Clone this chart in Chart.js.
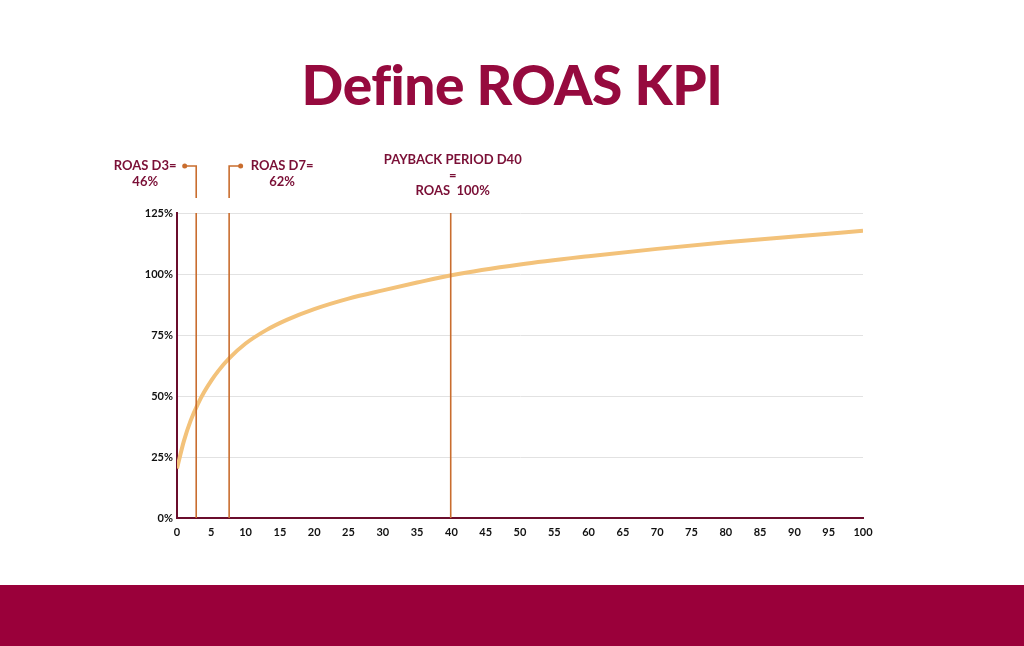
<!DOCTYPE html>
<html>
<head>
<meta charset="utf-8">
<script src="https://cdn.jsdelivr.net/npm/chart.js@4.4.0/dist/chart.umd.min.js"></script>
<style>
  html, body { margin: 0; padding: 0; background: #fff; }
  body { width: 1024px; height: 646px; position: relative; overflow: hidden; font-family: Lato, sans-serif; }
  h1 {
    position: absolute; left: 0; width: 1024px; top: 49px; margin: 0;
    text-align: center; font-size: 55px; font-weight: 900; color: #960a3e;
    line-height: 70px; letter-spacing: -0.5px;
  }
  #band { position: absolute; left: 0; top: 585px; width: 1024px; height: 61px; background: #9a003a; }
  #wrap { position: absolute; left: 0; top: 0; width: 1024px; height: 585px; }
</style>
</head>
<body>
<h1>Define ROAS KPI</h1>
<div id="wrap"><canvas id="roasChart"></canvas></div>
<div id="band"></div>
<script>
// day since install vs cumulative ROAS (%)
const days = [0, 1, 2, 3, 4, 5, 6, 7.6, 10, 13, 16, 20, 25, 30, 35, 40, 50, 60, 70, 80, 90, 100];
const roas = [20.3, 31.5, 40, 46.5, 51.8, 56.3, 60.2, 65.4, 71.5, 77, 81.2, 85.6, 89.9, 93.3, 96.5, 99.5, 103.9, 107.3, 110.3, 113, 115.4, 117.7];

// vertical markers: x position, hook direction above the chart (0 = none)
const markerDays = [2.8, 7.6, 39.9];
const markerHooks = [-1, 1, 0];
const markerLabels = [['ROAS D3=', '46%'], ['ROAS D7=', '62%'], ['PAYBACK PERIOD D40', '=', 'ROAS  100%']];

const markers = {
  id: 'markers',
  afterDatasetsDraw(chart) {
    const { ctx, chartArea, scales } = chart;
    ctx.save();
    ctx.strokeStyle = '#c96d2e';
    ctx.fillStyle = '#c96d2e';
    ctx.lineWidth = 1.6;
    markerDays.forEach((d, i) => {
      const x = scales.x.getPixelForValue(d);
      ctx.beginPath();
      ctx.moveTo(x, chartArea.top);
      ctx.lineTo(x, chartArea.bottom);
      ctx.stroke();
      if (markerHooks[i] !== 0) {
        const topY = chartArea.top - 47;
        const endX = x + markerHooks[i] * 11.5;
        ctx.beginPath();
        ctx.moveTo(x, chartArea.top - 15);
        ctx.lineTo(x, topY);
        ctx.lineTo(endX, topY);
        ctx.stroke();
        ctx.beginPath();
        ctx.arc(endX, topY, 2.5, 0, Math.PI * 2);
        ctx.fill();
      }
    });
    ctx.restore();
  },
  afterDraw(chart) {
    const { ctx, chartArea, scales } = chart;
    ctx.save();
    ctx.fillStyle = '#7a0f36';
    ctx.font = 'bold 13px Lato';
    ctx.textAlign = 'center';
    ctx.textBaseline = 'middle';
    const centers = [
      scales.x.getPixelForValue(markerDays[0]) - 51,
      scales.x.getPixelForValue(markerDays[1]) + 53,
      scales.x.getPixelForValue(markerDays[2]) + 2
    ];
    const tops = [chartArea.top - 47, chartArea.top - 47, chartArea.top - 53];
    markerLabels.forEach((lines, i) => {
      lines.forEach((t, j) => {
        ctx.fillText(t, centers[i], tops[i] + j * 15.5);
      });
    });
    ctx.restore();
  }
};

const config = {
  type: 'line',
  data: {
    datasets: [{
      label: 'ROAS',
      data: days.map((d, i) => ({ x: d, y: roas[i] })),
      borderColor: '#f3c27a',
      borderWidth: 4,
      pointRadius: 0,
      cubicInterpolationMode: 'monotone',
      fill: false
    }]
  },
  options: {
    responsive: false,
    animation: false,
    layout: { padding: { left: 137, top: 213, right: 161, bottom: 37 } },
    plugins: { legend: { display: false }, tooltip: { enabled: false } },
    scales: {
      x: {
        type: 'linear',
        min: 0, max: 100,
        ticks: { stepSize: 5, color: '#111', font: { family: 'Lato', weight: 'bold', size: 11 }, padding: 0, maxRotation: 0 },
        grid: { display: false },
        border: { color: '#6a0d2c', width: 2 },
        afterFit(s) { s.height = 30; }
      },
      y: {
        min: 0, max: 125,
        ticks: { stepSize: 25, callback: v => v + '%', color: '#111', font: { family: 'Lato', weight: 'bold', size: 11 }, padding: 4 },
        grid: { color: '#e2e2e2', drawTicks: false },
        border: { color: '#6a0d2c', width: 2 },
        afterFit(s) { s.width = 40; }
      }
    }
  },
  plugins: [markers]
};

const canvas = document.getElementById('roasChart');
canvas.width = 1024;
canvas.height = 585;
const chart = new Chart(canvas, config);
</script>
</body>
</html>
